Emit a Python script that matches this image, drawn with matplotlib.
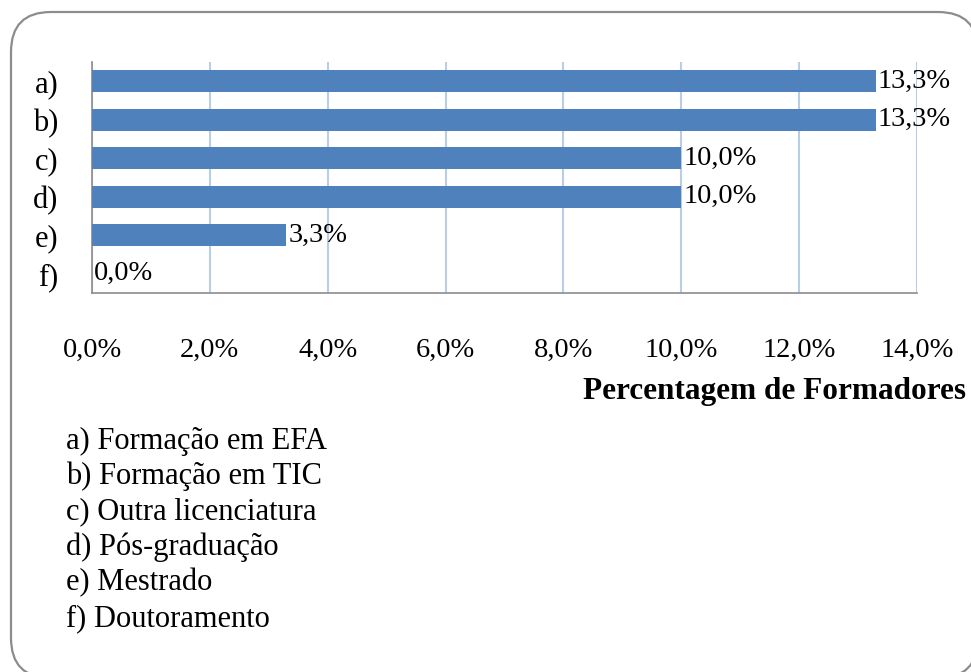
import matplotlib
matplotlib.use("Agg")
import matplotlib.pyplot as plt
from matplotlib.patches import FancyBboxPatch, Polygon
from matplotlib.ticker import FuncFormatter, MultipleLocator

categories = ["a)", "b)", "c)", "d)", "e)", "f)"]
values = [13.3, 13.3, 10.0, 10.0, 3.3, 0.0]
legend_lines = ["a) Formação em EFA", "b) Formação em TIC", "c) Outra licenciatura",
                "d) Pós-graduação", "e) Mestrado", "f) Doutoramento"]
xlabel = "Percentagem de Formadores"

plt.rcParams['font.family'] = ['Liberation Serif', 'DejaVu Serif']

W, H = 9.71, 6.72
fig = plt.figure(figsize=(W, H), dpi=100)
fig.patch.set_facecolor("white")

# rounded frame drawn in a full-figure pixel-unit axes (y up), curves flattened
bg = fig.add_axes([0, 0, 1, 1], zorder=-1)
bg.set_xlim(0, 971)
bg.set_ylim(0, 672)
bg.axis("off")
box = FancyBboxPatch((11, -6), 967, 666, boxstyle="round,pad=0,rounding_size=40")
flat = box.get_path().to_polygons(closed_only=False)[0]
bg.add_patch(Polygon(flat, closed=True, facecolor="none", edgecolor="#8c8c8c",
                     linewidth=1.6, clip_on=False))

ax = fig.add_axes([92/971, 1-293/672, (917-92)/971, (293-62)/672])
ax.patch.set_alpha(0)
y = list(range(len(categories)))
ax.barh(y, values, height=0.57, color="#4f81bd", zorder=3)
ax.set_ylim(len(categories)-0.5, -0.5)
ax.set_xlim(0, 14)
ax.xaxis.set_major_locator(MultipleLocator(2))
ax.xaxis.set_major_formatter(FuncFormatter(lambda v, p: f"{v:.1f}%".replace(".", ",")))
ax.set_yticks(y)
ax.set_yticklabels(categories)
ax.grid(axis="x", color="#b9cde5", linewidth=1.5, zorder=0)
for s in ["top", "right"]:
    ax.spines[s].set_visible(False)
for s in ["left", "bottom"]:
    ax.spines[s].set_color("#8c8c8c")
    ax.spines[s].set_linewidth(1.2)
ax.tick_params(axis="x", length=0, pad=32, labelsize=20.5)
ax.tick_params(axis="y", length=0, pad=24, labelsize=22)

for yi, v in zip(y, values):
    ax.text(v + 0.03, yi, f"{v:.1f}%".replace(".", ","), va="center", ha="left",
            fontsize=20.5, zorder=4)

fig.text(966/971, 1-392/672, xlabel, ha="right", va="center", fontsize=22.5,
         fontweight="bold")

for i, line in enumerate(legend_lines):
    fig.text(66/971, 1-(441 + i*35.5)/672, line, ha="left", va="center", fontsize=22)

fig.savefig("out.png", dpi=100)
